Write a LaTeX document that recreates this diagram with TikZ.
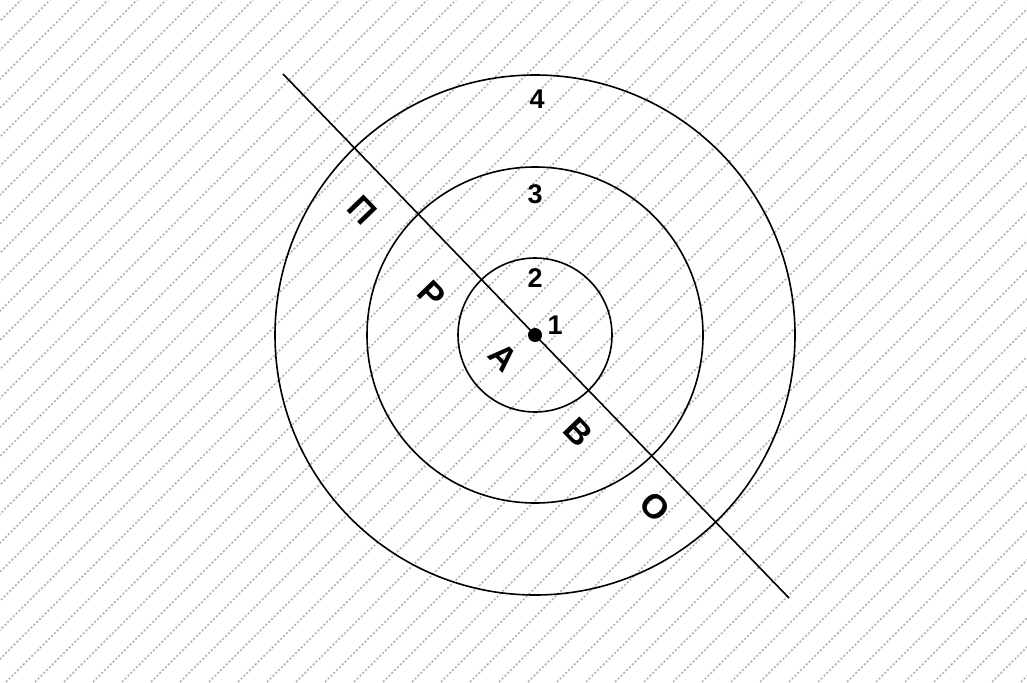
\documentclass[tikz,border=0pt]{standalone}
\usepackage{fontspec}
\setmainfont{Liberation Sans}
\usetikzlibrary{calc}
\tikzset{
  hatch/.style={draw=black!30, line width=1.7pt, dash pattern=on 2pt off 2pt},
  ring/.style={draw=black, line width=1.6pt},
  num/.style={font=\fontsize{27}{27}\selectfont\bfseries, inner sep=0pt},
  word/.style={font=\fontsize{34}{34}\selectfont\bfseries, inner sep=0pt, rotate=-46},
}

\begin{document}
\begin{tikzpicture}[x=1pt,y=-1pt]
\useasboundingbox (0,0) rectangle (1027,682);
\fill[white] (0,0) rectangle (1027,682);
% hatched background
\begin{scope}
\clip (0,0) rectangle (1027,682);
\foreach \c in {21,50,...,1740}
  \draw[hatch] (\c-682,682) -- (\c,0);
\end{scope}

\coordinate (centre) at (535,335);
\foreach \r in {77,168,260}
  \draw[ring] (centre) circle[radius=\r];

\coordinate (lineA) at (283,74);
\coordinate (lineB) at (789,598);
\draw[ring] (lineA) -- (lineB);
\fill (centre) circle[radius=7];

\node[num] (n1) at (555,325) {1};
\node[num] (n2) at (535,278) {2};
\node[num] (n3) at (535,194) {3};
\node[num] (n4) at (537,99) {4};

\node[word] (lP) at (362,210) {П};
\node[word] (lR) at (432,295) {Р};
\node[word] (lA) at (503,357) {А};
\node[word] (lV) at (578,432) {В};
\node[word] (lO) at (655,507) {О};
\end{tikzpicture}
\end{document}
